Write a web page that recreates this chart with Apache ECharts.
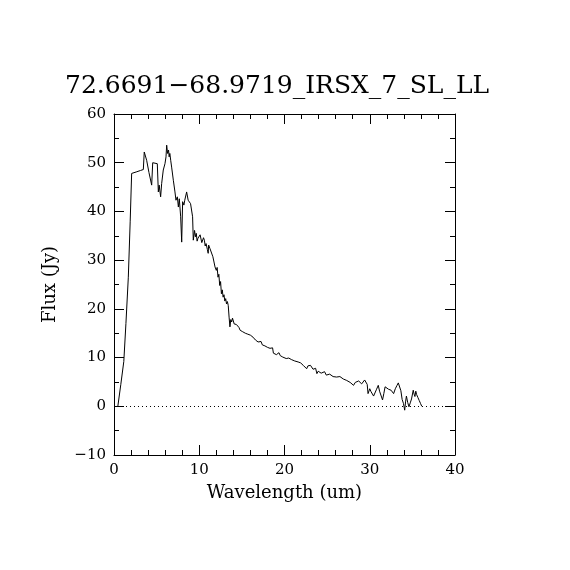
<!DOCTYPE html>
<html>
<head>
<meta charset="utf-8">
<script src="https://cdn.jsdelivr.net/npm/echarts@6/dist/echarts.min.js"></script>
<style>
  html, body { margin: 0; padding: 0; background: #fff; }
  #spectrum { width: 570px; height: 570px; }
</style>
</head>
<body>
<div id="spectrum"></div>
<script>
let chart_title = '72.6691\u221268.9719_IRSX_7_SL_LL';

let wavelength = [
    0.45, 0.8, 1.15, 1.4, 1.68, 1.9, 2.07, 2.6, 3.1, 3.44, 3.55, 3.83, 4.1, 4.42, 4.54,
    5.08, 5.2, 5.3, 5.47, 5.59, 5.78, 5.98, 6.1, 6.18, 6.29, 6.4, 6.47, 6.55, 6.65, 6.76,
    6.96, 7.15, 7.27, 7.43, 7.55, 7.66, 7.82, 7.94, 8.05, 8.2, 8.3, 8.52, 8.7, 8.98, 9.22,
    9.3, 9.45, 9.55, 9.65, 9.75, 9.85, 10.0, 10.1, 10.2, 10.3, 10.4, 10.5, 10.6, 10.7, 10.8,
    10.95, 11.05, 11.1, 11.25, 11.4, 11.6, 11.85, 12.0, 12.1, 12.2, 12.3, 12.4, 12.5, 12.6, 12.7,
    12.8, 12.9, 13.0, 13.1, 13.2, 13.3, 13.4, 13.5, 13.6, 13.7, 13.8, 13.9, 14.0, 14.1, 14.2,
    14.35, 14.5, 14.65, 14.8, 14.95, 15.1, 15.25, 15.4, 15.55, 15.7, 15.85, 16.0, 16.15, 16.3, 16.45,
    16.6, 16.75, 16.9, 17.1, 17.25, 17.4, 17.55, 17.7, 17.85, 18.0, 18.15, 18.3, 18.4, 18.5, 18.6,
    18.7, 18.9, 19.05, 19.2, 19.35, 19.5, 19.65, 19.8, 20.0, 20.2, 20.35, 20.5, 20.65, 20.8, 21.0,
    21.2, 21.4, 21.6, 21.75, 21.9, 22.05, 22.2, 22.4, 22.6, 22.75, 22.9, 23.05, 23.2, 23.35, 23.5,
    23.65, 23.8, 23.95, 24.1, 24.3, 24.5, 24.7, 24.9, 25.1, 25.3, 25.5, 25.7, 25.9, 26.1, 26.3,
    26.5, 26.7, 26.9, 27.1, 27.3, 27.5, 27.7, 27.9, 28.1, 28.3, 28.5, 28.7, 28.9, 29.05, 29.2,
    29.4, 29.6, 29.7, 29.8, 30.0, 30.15, 30.3, 30.45, 30.6, 30.8, 31.0, 31.15, 31.3, 31.5, 31.65,
    31.8, 32.0, 32.2, 32.35, 32.5, 32.65, 32.8, 33.0, 33.2, 33.35, 33.5, 33.65, 33.8, 33.95, 34.1,
    34.2, 34.3, 34.45, 34.6, 34.75, 34.9, 35.1, 35.2, 35.3, 35.4, 35.5, 35.65, 35.8, 35.95, 36.1
];

let flux = [
    0.0, 4.5, 9.2, 17.0, 26.5, 38.0, 47.8, 48.1, 48.4, 48.6, 52.2, 50.5, 48.0, 45.4, 50.0,
    49.8, 44.0, 45.4, 43.0, 45.7, 48.5, 49.8, 51.2, 53.6, 51.9, 52.6, 51.2, 51.9, 50.5, 49.1,
    46.4, 44.0, 42.3, 43.0, 40.9, 42.6, 38.9, 33.7, 42.0, 41.3, 42.3, 44.0, 42.3, 41.6, 38.9,
    34.1, 36.1, 34.8, 35.5, 33.9, 34.5, 34.1, 35.2, 34.8, 33.6, 33.7, 34.6, 34.1, 32.9, 33.4,
    32.2, 31.4, 33.1, 32.4, 32.7, 30.7, 28.6, 27.9, 28.5, 26.5, 27.1, 24.8, 25.6, 23.1, 23.9,
    22.4, 22.9, 21.6, 22.1, 21.0, 21.5, 20.7, 18.3, 16.3, 17.8, 17.3, 18.1, 17.8, 16.9, 17.0,
    16.8, 16.4, 16.2, 15.6, 15.9, 15.3, 15.6, 15.0, 15.2, 14.8, 14.9, 14.6, 14.7, 14.2, 14.4,
    13.6, 13.9, 13.2, 12.9, 13.3, 12.6, 12.8, 12.4, 12.7, 12.1, 12.3, 11.9, 12.2, 11.6, 12.0,
    10.9, 11.1, 10.6, 10.7, 11.0, 10.4, 10.6, 10.1, 10.3, 9.8, 10.0, 9.9, 9.5, 9.6, 9.9,
    9.3, 9.5, 9.1, 8.7, 8.9, 9.2, 8.4, 8.6, 7.7, 8.3, 8.0, 8.4, 8.1, 7.6, 7.4,
    7.8, 6.7, 7.2, 7.0, 6.8, 6.7, 7.1, 6.4, 6.8, 6.6, 6.2, 6.1, 6.5, 6.0, 5.8,
    6.1, 5.9, 5.6, 5.8, 5.3, 5.5, 4.9, 5.2, 4.3, 4.9, 4.8, 5.2, 5.0, 4.6, 4.7,
    5.4, 5.3, 4.5, 2.6, 3.6, 3.0, 3.3, 2.1, 2.4, 3.5, 4.3, 3.1, 2.8, 1.3, 2.6,
    4.0, 3.8, 3.5, 3.9, 3.3, 3.0, 2.6, 3.6, 4.3, 4.8, 5.0, 3.2, 1.4, 0.6, -0.8,
    0.9, 2.1, 0.8, -0.1, 0.7, 1.5, 3.3, 2.5, 2.0, 3.1, 2.4, 1.8, 1.2, 0.6, 0.0
];

let x_min = 0, x_max = 40, x_step = 10;
let y_min = -10, y_max = 60, y_step = 10;

function drawSpectrum(){
    let my_chart = echarts.init(document.getElementById('spectrum'));

    let display_data = wavelength.map(function(w, i){
        return [w, flux[i]];
    });

    let font = 'DejaVu Serif';
    let axis_color = '#000';

    let tick_style = {
        show: true,
        inside: true,
        length: 10,
        lineStyle: { color: axis_color, width: 1 }
    };
    let minor_style = function(n){
        return {
            show: true,
            splitNumber: n,
            length: 5,
            lineStyle: { color: axis_color, width: 1 }
        };
    };
    let line_style = {
        show: true,
        onZero: false,
        lineStyle: { color: axis_color, width: 1 }
    };
    let label_style = {
        color: '#000',
        fontFamily: font,
        fontSize: 15,
        margin: 8,
        formatter: function(v){ return String(v).replace('-', '\u2212'); }
    };

    let option = {
        backgroundColor: '#fff',
        animation: false,
        title: {
            text: chart_title,
            left: 60,
            top: 69,
            textStyle: {
                color: '#000',
                fontFamily: font,
                fontWeight: 'normal',
                fontSize: 25
            }
        },
        grid: {
            left: 114,
            right: 115,
            top: 114,
            bottom: 115
        },
        xAxis: [
            {
                type: 'value',
                min: x_min,
                max: x_max,
                interval: x_step,
                name: 'Wavelength (um)',
                nameLocation: 'middle',
                nameGap: 29,
                nameTextStyle: { color: '#000', fontFamily: font, fontSize: 18 },
                axisLine: line_style,
                axisTick: tick_style,
                minorTick: minor_style(5),
                axisLabel: label_style,
                splitLine: { show: false }
            },
            {
                type: 'value',
                position: 'top',
                min: x_min,
                max: x_max,
                interval: x_step,
                axisLine: line_style,
                axisTick: tick_style,
                minorTick: minor_style(5),
                axisLabel: { show: false },
                splitLine: { show: false }
            }
        ],
        yAxis: [
            {
                type: 'value',
                min: y_min,
                max: y_max,
                interval: y_step,
                name: 'Flux (Jy)',
                nameLocation: 'middle',
                nameGap: 55,
                nameTextStyle: { color: '#000', fontFamily: font, fontSize: 18 },
                axisLine: line_style,
                axisTick: tick_style,
                minorTick: minor_style(2),
                axisLabel: label_style,
                splitLine: { show: false }
            },
            {
                type: 'value',
                position: 'right',
                min: y_min,
                max: y_max,
                interval: y_step,
                axisLine: line_style,
                axisTick: tick_style,
                minorTick: minor_style(2),
                axisLabel: { show: false },
                splitLine: { show: false }
            }
        ],
        series: [
            {
                name: 'Flux',
                type: 'line',
                xAxisIndex: 0,
                yAxisIndex: 0,
                symbol: 'none',
                lineStyle: { color: '#000', width: 1 },
                data: display_data,
                markLine: {
                    silent: true,
                    symbol: 'none',
                    label: { show: false },
                    lineStyle: { color: '#000', width: 1, type: [1, 3] },
                    data: [{ yAxis: 0 }]
                }
            }
        ]
    };

    my_chart.setOption(option);
}

drawSpectrum();
</script>
</body>
</html>
